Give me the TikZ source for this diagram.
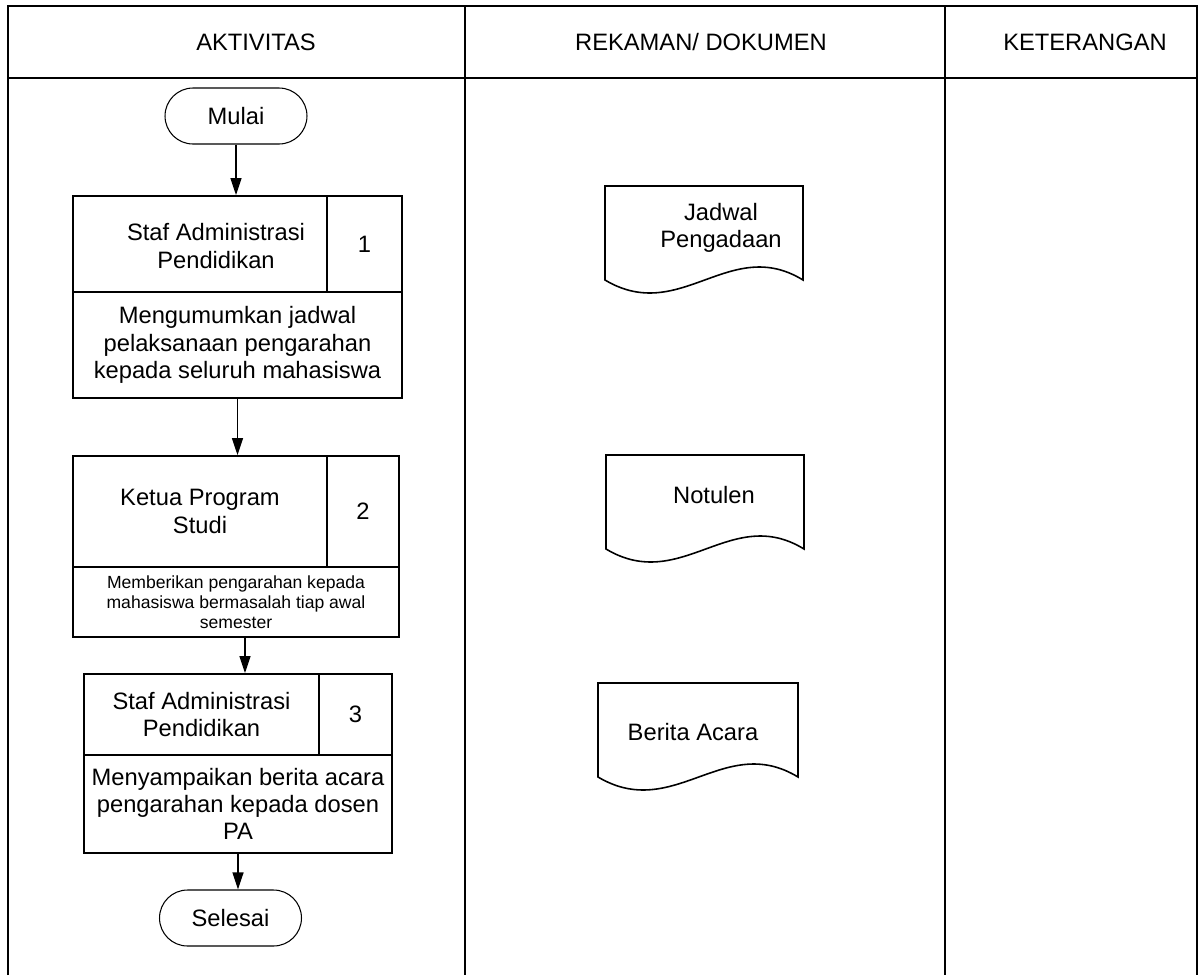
\documentclass[tikz,border=0pt]{standalone}
\usepackage{fontspec}
\setmainfont{Liberation Sans}
\usepackage{tikz}
\newcommand{\docpath}[4]% left, top, width, height
{(#1,#2+#4) -- (#1,#2) -- (#1+#3,#2) -- (#1+#3,#2+#4) .. controls (#1+0.63*#3,#2+#4-45) and (#1+0.38*#3,#2+#4+45) .. cycle
}
\newcommand{\bodyfont}{\fontsize{13.5}{15.5}\selectfont}
\newcommand{\smallfont}{\fontsize{10}{11.5}\selectfont}
\usetikzlibrary{arrows.meta}

\begin{document}
\begin{tikzpicture}[x=0.02cm,y=-0.02cm,
	box/.style={draw,line width=1.1pt,align=center,font=\bodyfont,inner sep=2pt},
	term/.style={draw,rounded corners=0.56cm,line width=0.6pt,minimum width=2.84cm,minimum height=1.12cm,font=\bodyfont},
	flow/.style={line width=0.7pt,-{Triangle[length=0.34cm,width=0.22cm]}},
	txt/.style={font=\bodyfont,align=center}]
	\useasboundingbox (0,0) rectangle (1198,975);
	% table
	\draw[line width=1.2pt] (8,975) -- (8,6) -- (1197,6) -- (1197,975);
	\draw[line width=1.2pt] (8,78) -- (1197,78);
	\draw[line width=1.2pt] (465,6) -- (465,975);
	\draw[line width=1.2pt] (945,6) -- (945,975);
	\node[txt] (hakt) at (256,42){AKTIVITAS};
	\node[txt] (hrek) at (701,42){REKAMAN/ DOKUMEN};
	\node[txt] (hket) at (1085,42){KETERANGAN};
	% aktivitas
	\node[term] (mulai) at (236,116){Mulai};
	\node[box,minimum width=5.08cm,minimum height=1.92cm] (w1) at (200,244){};
	\node[txt] (w1txt) at (216,246){Staf Administrasi\\Pendidikan};
	\node[box,minimum width=1.5cm,minimum height=1.92cm] (n1) at (364.5,244){1};
	\node[box,minimum width=6.58cm,minimum height=2.12cm] (t1) at (237.5,345){Mengumumkan jadwal\\pelaksanaan pengarahan\\kepada seluruh mahasiswa};
	\node[box,minimum width=5.08cm,minimum height=2.22cm] (w2) at (200,511.5){Ketua Program\\Studi};
	\node[box,minimum width=1.44cm,minimum height=2.22cm] (n2) at (363,511.5){2};
	\node[box,font=\smallfont,minimum width=6.52cm,minimum height=1.4cm] (t2) at (236,602){Memberikan pengarahan kepada\\mahasiswa bermasalah tiap awal\\semester};
	\node[box,minimum width=4.7cm,minimum height=1.62cm] (w3) at (201.5,714.5){Staf Administrasi\\Pendidikan};
	\node[box,minimum width=1.46cm,minimum height=1.62cm] (n3) at (355.5,714.5){3};
	\node[box,minimum width=6.16cm,minimum height=1.96cm] (t3) at (238,804){Menyampaikan berita acara\\pengarahan kepada dosen\\PA};
	\node[term] (selesai) at (230.5,918){Selesai};
	\draw[flow] (mulai) -- (mulai |- w1.north);
	\draw[flow] (t1.south) -- (t1.south |- w2.north);
	\draw[flow] ([xshift=0.18cm]t2.south) -- ([xshift=0.18cm]t2.south |- w3.north);
	\draw[flow] (t3.south) -- (t3.south |- selesai.north);
	% dokumen
	\draw[line width=0.9pt] \docpath{605}{186}{198}{94};
	\node[txt] (jadwal) at (721,228){Jadwal\\Pengadaan};
	\draw[line width=0.9pt] \docpath{606}{455}{198}{94};
	\node[txt] (notulen) at (714,495){Notulen};
	\draw[line width=0.9pt] \docpath{598}{683}{200}{94};
	\node[txt] (berita) at (693,732){Berita Acara};
\end{tikzpicture}
\end{document}
